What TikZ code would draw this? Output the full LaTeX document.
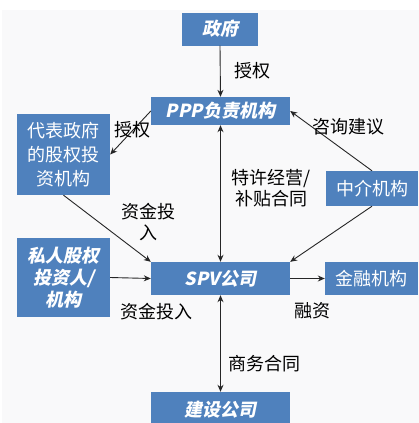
\documentclass[tikz,border=0pt]{standalone}
\usepackage{fontspec}
\setmainfont{Noto Sans CJK SC}
\newfontfamily\bifont{Noto Sans CJK SC}[FakeSlant=0.2]
\usetikzlibrary{arrows.meta}
\definecolor{boxblue}{RGB}{79,129,189}
\definecolor{bggray}{RGB}{249,249,250}
\tikzset{
  box/.style={fill=boxblue, draw=none, text=white, inner sep=0pt, align=center,
    font=\fontsize{18}{24}\selectfont},
  bibox/.style={box, font=\fontsize{18}{22}\selectfont\bifont\bfseries},
  lbl/.style={text=black, inner sep=0pt, align=center, font=\fontsize{18}{21.5}\selectfont},
  arr/.style={draw=black!85, line width=0.9pt, -{Stealth[length=7pt,width=6pt]}},
  darr/.style={draw=black!85, line width=0.9pt, {Stealth[length=7pt,width=6pt]}-{Stealth[length=7pt,width=6pt]}}
}
\begin{document}
\begin{tikzpicture}[x=1pt,y=-1pt]
\useasboundingbox (0,0) rectangle (419,423);
\clip (0,0) rectangle (419,423);
\fill[white] (0,0) rectangle (419,423);
\fill[bggray] (2,10) rectangle (419,423);

\node[bibox, minimum width=76pt, minimum height=33pt] (gov) at (220,29) {政府};
\node[bibox, minimum width=139pt, minimum height=28pt] (ppp) at (220.5,111) {PPP负责机构};
\node[box, minimum width=93pt, minimum height=81pt] (dai) at (63.5,154.5) {代表政府\\的股权投\\资机构};
\node[box, minimum width=92pt, minimum height=35pt] (mid) at (372,188.5) {中介机构};
\node[bibox, minimum width=93pt, minimum height=79pt] (pri) at (63.5,277.5) {私人股权\\投资人/\\机构};
\node[bibox, minimum width=139pt, minimum height=33pt] (spv) at (220.5,278.5) {SPV公司};
\node[box, minimum width=93pt, minimum height=33pt] (fin) at (371.5,278.5) {金融机构};
\node[bibox, minimum width=139pt, minimum height=36pt] (con) at (220.5,410) {建设公司};

\draw[arr] (gov.south) -- (ppp.north);
\draw[arr] (ppp.west) -- (dai.east);
\draw[arr] (mid.north) -- (ppp.east);
\draw[darr] (ppp.south) -- (spv.north);
\draw[arr] (dai.south) -- (spv.north west);
\draw[arr] (mid.south) -- (spv.north east);
\draw[arr] (pri.east) -- (spv.west);
\draw[arr] (spv.east) -- (fin.west);
\draw[darr] (spv.south) -- (con.north);

\node[lbl] (l1) at (252,71) {授权};
\node[lbl] (l2) at (132,130) {授权};
\node[lbl] (l3) at (348,127) {咨询建议};
\node[lbl] (l4) at (271,188) {特许经营/\\补贴合同};
\node[lbl] (l5) at (148,222) {资金投\\入};
\node[lbl] (l6) at (156,312) {资金投入};
\node[lbl] (l7) at (312,311) {融资};
\node[lbl] (l8) at (264,364) {商务合同};
\end{tikzpicture}
\end{document}
